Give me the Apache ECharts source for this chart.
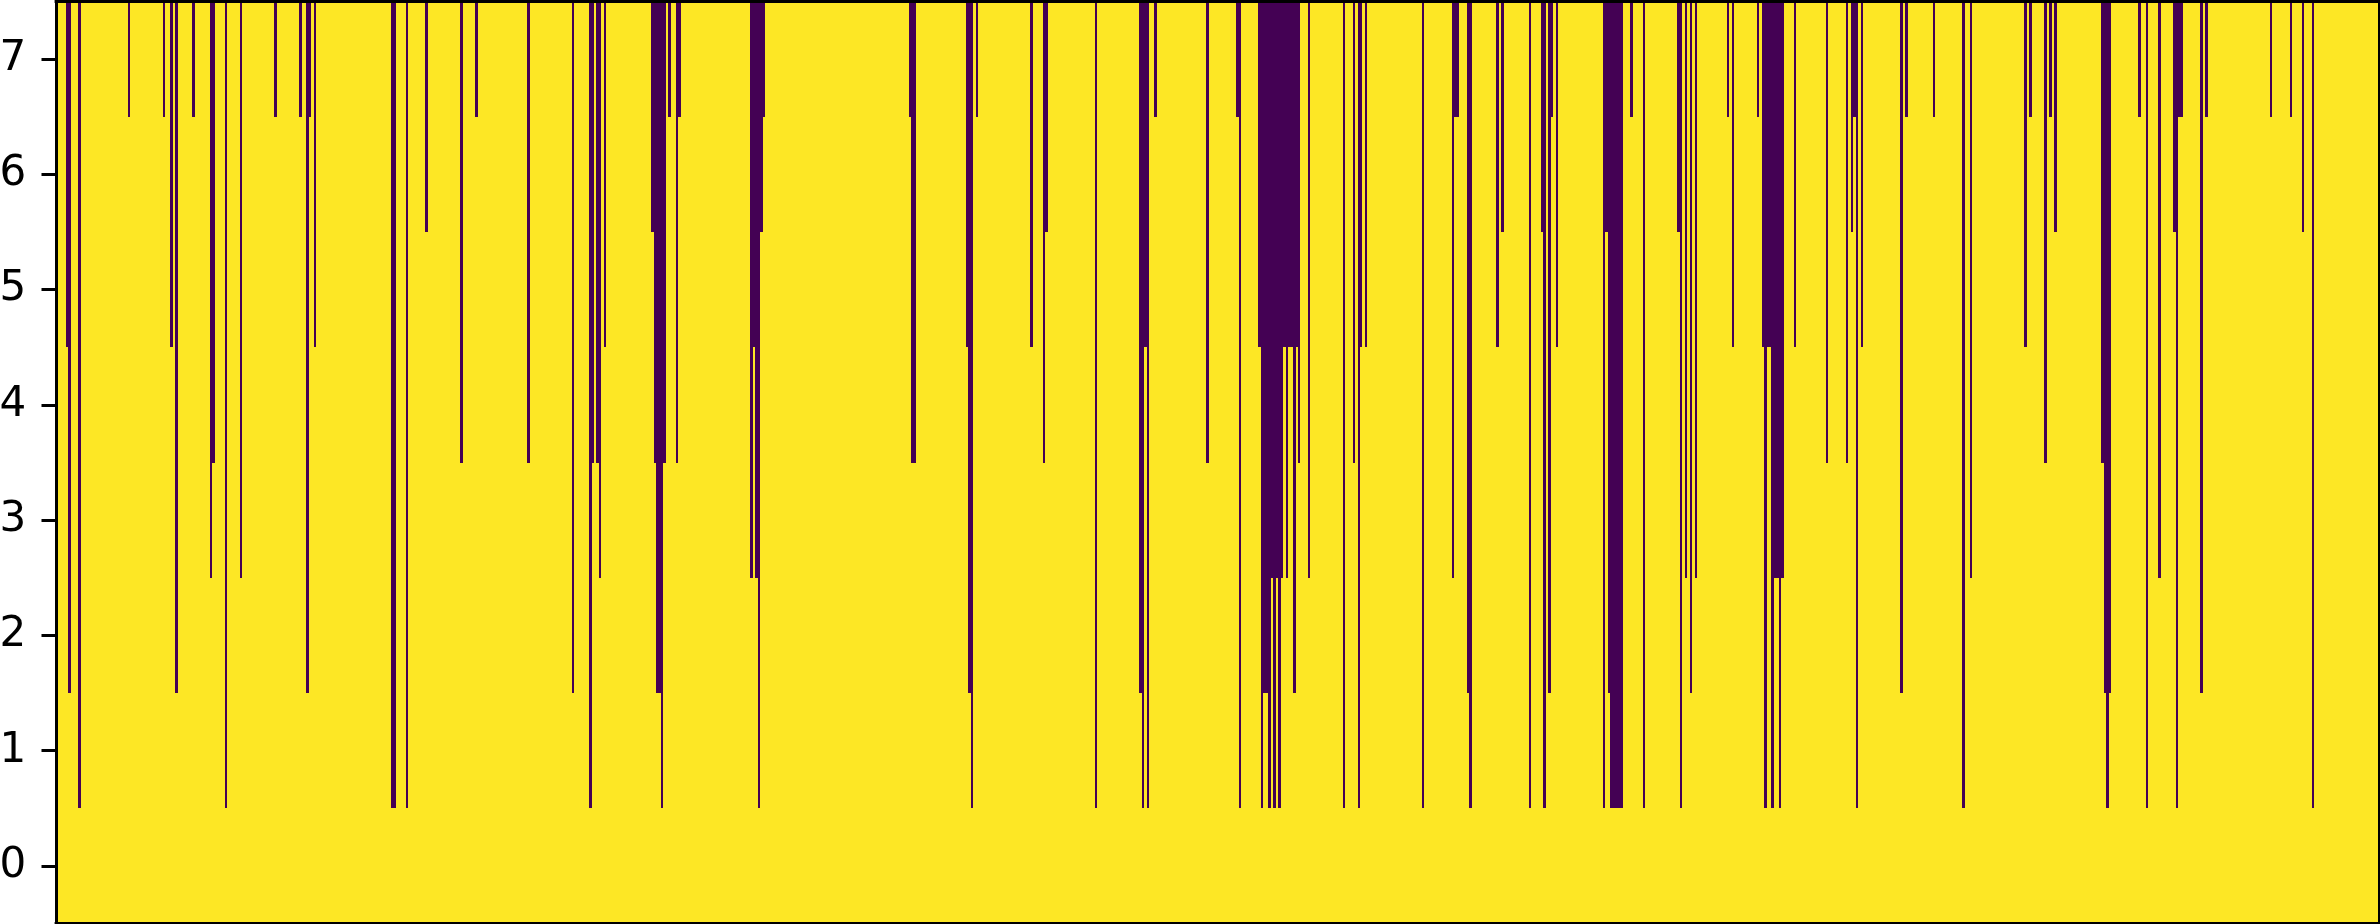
<!DOCTYPE html>
<html>
<head>
<meta charset="utf-8">
<style>html,body{margin:0;padding:0;background:#fff}#c{width:2380px;height:924px}</style>
<script src="https://cdn.jsdelivr.net/npm/echarts@6/dist/echarts.min.js"></script>
</head>
<body>
<div id="c"></div>
<script>
const columnCount = 937;
const rowLabels = ['0','1','2','3','4','5','6','7'];
// Each list holds the columns whose dark cells reach from the top row down to that row.
const reachRow1 = [9,68,135,136,141,215,244,283,369,419,438,440,477,486,489,491,493,519,525,551,570,594,600,624,627,628,629,630,631,640,655,689,692,695,726,769,827,843,855,910];
const reachRow2 = [5,48,101,208,242,243,368,437,487,488,499,569,602,626,659,744,826,828,865];
const reachRow3 = [62,74,219,280,282,490,492,494,496,505,563,657,661,693,694,696,772,848];
const reachRow4 = [63,163,190,216,218,241,245,250,345,346,398,464,501,523,714,722,802,825];
const reachRow5 = [4,46,104,221,281,367,393,439,485,495,497,498,500,526,528,581,605,676,688,690,691,701,728,794];
const reachRow6 = [149,240,284,399,583,599,625,654,724,806,854,906];
const reachRow7 = [29,43,55,88,98,102,169,247,251,285,344,371,443,476,564,565,603,635,674,686,725,746,757,796,804,840,856,857,867,893,901];

const seriesData = [];
[reachRow1,reachRow2,reachRow3,reachRow4,reachRow5,reachRow6,reachRow7].forEach((cols,i)=>{
  cols.forEach(c=>seriesData.push([c,i+1]));
});

const BLACK='#000000', YELLOW='#fde725', PURPLE='#440154';
const chart = echarts.init(document.getElementById('c'),null,{renderer:'canvas',width:2380,height:924});
const spine = {show:true,onZero:false,lineStyle:{color:BLACK,width:3,cap:'square'}};
chart.setOption({
  animation:false,
  backgroundColor:'#ffffff',
  grid:{show:true,left:56.1,top:1.4,width:2322.7,height:922.2,backgroundColor:YELLOW,borderWidth:0,containLabel:false,outerBoundsMode:'none'},
  xAxis:[
    {type:'value',min:-0.5,max:columnCount-0.5,position:'bottom',axisLine:spine,axisTick:{show:false},axisLabel:{show:false},splitLine:{show:false},z:10},
    {type:'value',min:-0.5,max:columnCount-0.5,position:'top',axisLine:spine,axisTick:{show:false},axisLabel:{show:false},splitLine:{show:false},z:10}
  ],
  yAxis:[
    {type:'category',data:rowLabels,position:'left',axisLine:spine,
     axisTick:{show:true,alignWithLabel:true,length:14.6,lineStyle:{color:BLACK,width:3}},
     axisLabel:{show:true,color:BLACK,fontFamily:'DejaVu Sans',fontSize:42,margin:30,interval:0,padding:[4,0,0,0]},
     splitLine:{show:false},z:10},
    {type:'category',data:rowLabels,position:'right',axisLine:spine,axisTick:{show:false},axisLabel:{show:false},splitLine:{show:false},z:10}
  ],
  series:[{
    type:'custom',
    xAxisIndex:0,yAxisIndex:0,
    coordinateSystem:'cartesian2d',
    z:2,
    clip:true,
    encode:{x:0,y:1},
    data:seriesData,
    renderItem:function(params,api){
      const col=api.value(0), row=api.value(1);
      const band=api.size([0,1])[1];
      const x0=Math.round(api.coord([col-0.5,row])[0]);
      const x1=Math.round(api.coord([col+0.5,row])[0]);
      const yBottom=Math.round(api.coord([col,row])[1]+band/2);
      const yTop=Math.round(api.coord([col,7])[1]-band/2);
      return {type:'rect',shape:{x:x0,y:yTop,width:x1-x0,height:yBottom-yTop},style:{fill:PURPLE},silent:true};
    }
  }]
});
</script>
</body>
</html>
